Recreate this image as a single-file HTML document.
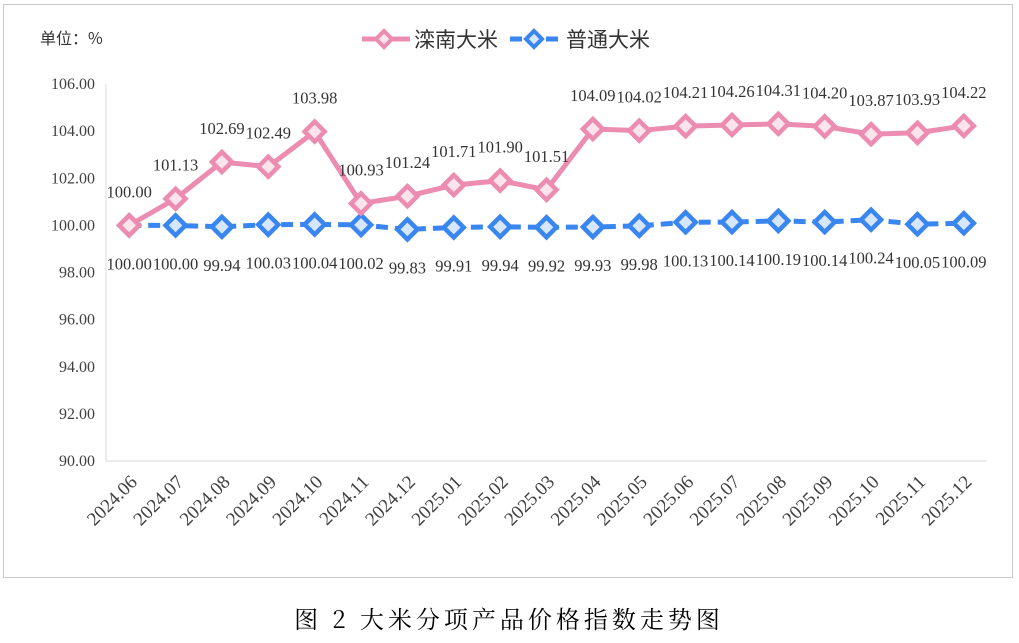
<!DOCTYPE html>
<html><head><meta charset="utf-8"><style>
body{margin:0;background:#fff;width:1019px;height:638px;overflow:hidden}
svg text{font-family:"Liberation Serif","Noto Serif CJK SC",serif}
</style></head><body>
<svg width="1019" height="638">
<rect x="3.5" y="4.5" width="1009" height="573" fill="#fff" stroke="#c8c8c8"/>
<text x="40" y="44" font-size="16" fill="#333" style="font-family:'Noto Sans CJK SC',sans-serif">单位：%</text>
<g>
<g>
<line x1="362" y1="39" x2="410" y2="39" stroke="#ec8cb0" stroke-width="5"/>
<path d="M384 31 L392 39 L384 47 L376 39 Z" fill="#fbe4ec" stroke="#ec8cb0" stroke-width="4"/>
<text x="414" y="47" font-size="21" fill="#333" style="font-family:'Noto Sans CJK SC',sans-serif">滦南大米</text>
</g>
<g>
<line x1="510" y1="39" x2="558" y2="39" stroke="#3a86f0" stroke-width="5" stroke-dasharray="12,6"/>
<path d="M534 31 L542 39 L534 47 L526 39 Z" fill="#d6e6fc" stroke="#3a86f0" stroke-width="4"/>
<text x="566" y="47" font-size="21" fill="#333" style="font-family:'Noto Sans CJK SC',sans-serif">普通大米</text>
</g>
</g>
<g id="axes"></g>
<g id="series"></g>
<text x="509" y="628" font-size="24" text-anchor="middle" fill="#000" letter-spacing="4" style="font-family:'Noto Serif CJK SC',serif">图 2 大米分项产品价格指数走势图</text>
</svg>
<script>
const categories=["2024.06","2024.07","2024.08","2024.09","2024.10","2024.11","2024.12","2025.01","2025.02","2025.03","2025.04","2025.05","2025.06","2025.07","2025.08","2025.09","2025.10","2025.11","2025.12"];
const luannan=[100.00,101.13,102.69,102.49,103.98,100.93,101.24,101.71,101.90,101.51,104.09,104.02,104.21,104.26,104.31,104.20,103.87,103.93,104.22];
const regular=[100.00,100.00,99.94,100.03,100.04,100.02,99.83,99.91,99.94,99.92,99.93,99.98,100.13,100.14,100.19,100.14,100.24,100.05,100.09];
const yTicks=[90,92,94,96,98,100,102,104,106];
const NS="http://www.w3.org/2000/svg";
const L=106,R=987,T=84,B=461,yMin=90,yMax=106;
const step=(R-L)/categories.length;
const xs=i=>L+step*(i+0.5);
const ys=v=>B-(v-yMin)/(yMax-yMin)*(B-T);
function mk(tag,at,parent){const e=document.createElementNS(NS,tag);for(const k in at)e.setAttribute(k,at[k]);parent.appendChild(e);return e;}
const ax=document.getElementById('axes'),se=document.getElementById('series');
let e=mk('line',{x1:L,y1:T,x2:L,y2:B,stroke:'#d9d9d9','stroke-width':1},ax);


e=mk('line',{x1:L,y1:B,x2:R,y2:B,stroke:'#d9d9d9','stroke-width':1},ax);


yTicks.forEach(v=>{const t=mk('text',{x:95,y:ys(v)+5,'font-size':16,'text-anchor':'end',fill:'#404040'},ax);t.textContent=v.toFixed(2);

});
categories.forEach((c,i)=>{const x=xs(i);const ax0=x+9,ay0=483;const t=mk('text',{x:ax0,y:ay0,'font-size':19,'text-anchor':'end',fill:'#404040',transform:`rotate(-45 ${ax0} ${ay0})`},ax);t.textContent=c;

});
function series(vals,color,fill,dash,name,off){
const pts=vals.map((v,i)=>xs(i)+','+ys(v)).join(' ');
const pl=mk('polyline',{points:pts,fill:'none',stroke:color,'stroke-width':5,'stroke-dasharray':dash,'stroke-linejoin':'round'},se);


vals.forEach((v,i)=>{const x=xs(i),y=ys(v);
const m=mk('path',{d:`M${x} ${y-10}L${x+10} ${y}L${x} ${y+10}L${x-10} ${y}Z`,fill:fill,stroke:color,'stroke-width':4.5},se);


const t=mk('text',{x:x,y:y+off,'font-size':16.5,'text-anchor':'middle',fill:'#333'},se);t.textContent=v.toFixed(2);

});}
series(regular,'#3a86f0','#d6e6fc','12,7','regular-rice',44);
series(luannan,'#ec8cb0','#fbe4ec','none','luannan-rice',-28);
</script>
</body></html>
